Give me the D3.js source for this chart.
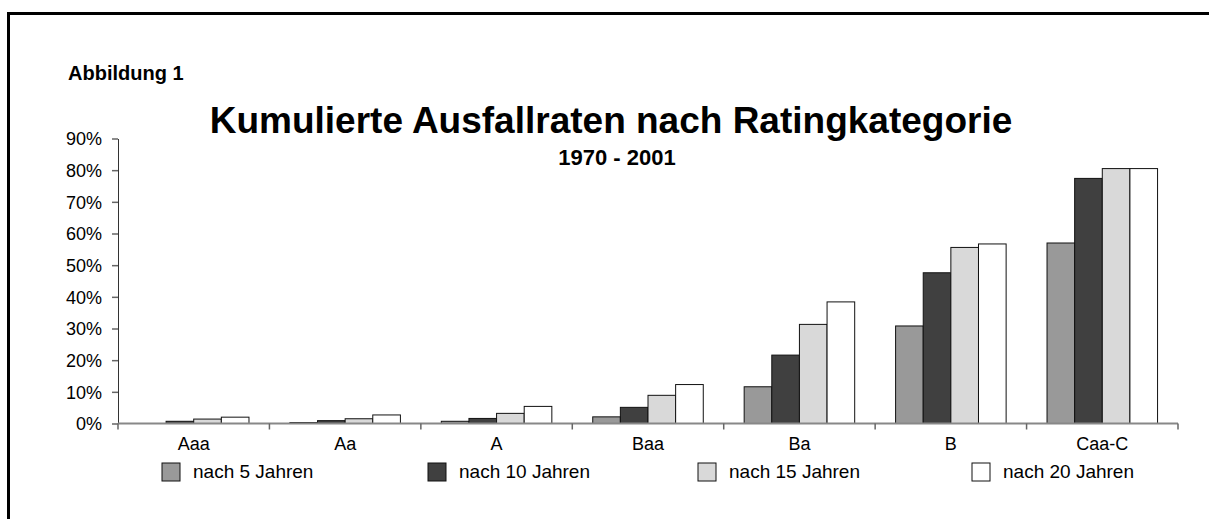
<!DOCTYPE html>
<html>
<head>
<meta charset="utf-8">
<script src="https://cdn.jsdelivr.net/npm/d3@7"></script>
<style>
  body { margin: 0; background: #fff; }
  svg { display: block; font-family: "Liberation Sans", Arial, sans-serif; }
  .axis text { font-size: 18px; fill: #000; }
</style>
</head>
<body>
<script>
// chart data (share of defaults)
var categories = ["Aaa", "Aa", "A", "Baa", "Ba", "B", "Caa-C"];
var seriesNames = ["nach 5 Jahren", "nach 10 Jahren", "nach 15 Jahren", "nach 20 Jahren"];
var after5  = [0.000, 0.003, 0.007, 0.021, 0.116, 0.308, 0.570];
var after10 = [0.007, 0.009, 0.016, 0.051, 0.216, 0.476, 0.774];
var after15 = [0.014, 0.015, 0.032, 0.089, 0.313, 0.556, 0.805];
var after20 = [0.020, 0.027, 0.054, 0.123, 0.384, 0.567, 0.805];
var yTicks = [0, 0.1, 0.2, 0.3, 0.4, 0.5, 0.6, 0.7, 0.8, 0.9];

var fills = ["#999999", "#404040", "#d9d9d9", "#ffffff"];

var W = 1209, H = 519;
var plot = {left: 118, right: 1178, top: 138.5, bottom: 423.5};

var series = [after5, after10, after15, after20];
var rows = categories.map(function(c, i) {
    return {cat: c, values: series.map(function(s, j) { return {key: j, value: s[i]}; })};
});

var svg = d3.select("body").append("svg")
    .attr("width", W)
    .attr("height", H);

// frame: only top and left edge visible
svg.append("path")
    .attr("d", "M8.5," + H + "V13.5H" + W)
    .attr("fill", "none")
    .attr("stroke", "#000")
    .attr("stroke-width", 3);

svg.append("text")
    .attr("x", 68).attr("y", 80)
    .style("font-size", "20px").style("font-weight", "bold")
    .text("Abbildung 1");

svg.append("text")
    .attr("x", 611).attr("y", 133)
    .attr("text-anchor", "middle")
    .style("font-size", "37px").style("font-weight", "bold")
    .text("Kumulierte Ausfallraten nach Ratingkategorie");

svg.append("text")
    .attr("x", 617).attr("y", 165)
    .attr("text-anchor", "middle")
    .style("font-size", "22px").style("font-weight", "bold")
    .text("1970 - 2001");

var x = d3.scaleBand()
    .domain(categories)
    .range([plot.left, plot.right])
    .padding(0);

var xs = d3.scaleBand()
    .domain(d3.range(series.length))
    .range([0, x.bandwidth()])
    .paddingInner(0)
    .paddingOuter(0.74);

var y = d3.scaleLinear()
    .domain([0, 0.9])
    .range([plot.bottom, plot.top]);

// y axis
var yAxis = svg.append("g")
    .attr("class", "axis")
    .attr("transform", "translate(" + plot.left + ",0)")
    .call(d3.axisLeft(y).tickValues(yTicks).tickFormat(d3.format(".0%")).tickSize(6).tickPadding(10).tickSizeOuter(0));
yAxis.select(".domain").attr("stroke", "#333");
yAxis.selectAll(".tick line").attr("stroke", "#666").attr("stroke-width", 1.5);
yAxis.selectAll("text").attr("dy", "0.36em");

// bars
var groups = svg.append("g").selectAll("g")
    .data(rows)
    .enter().append("g")
    .attr("transform", function(d) { return "translate(" + x(d.cat) + ",0)"; });

groups.selectAll("rect")
    .data(function(d) { return d.values; })
    .enter().append("rect")
    .filter(function(d) { return d.value > 0; })
    .attr("x", function(d) { return xs(d.key); })
    .attr("width", xs.bandwidth())
    .attr("y", function(d) { return y(d.value); })
    .attr("height", function(d) { return y(0) - y(d.value); })
    .attr("fill", function(d) { return fills[d.key]; })
    .attr("stroke", "#111")
    .attr("stroke-width", 1);

// x axis: baseline, category labels, boundary ticks
var xAxis = svg.append("g")
    .attr("class", "axis")
    .attr("transform", "translate(0," + plot.bottom + ")")
    .call(d3.axisBottom(x).tickSize(0).tickPadding(10));
xAxis.select(".domain").remove();
xAxis.selectAll("text").attr("dy", "0.9em");

svg.append("line")
    .attr("x1", plot.left).attr("x2", plot.right)
    .attr("y1", plot.bottom).attr("y2", plot.bottom)
    .attr("stroke", "#888").attr("stroke-width", 2);

svg.append("g").selectAll("line")
    .data(categories.concat(["end"]))
    .enter().append("line")
    .attr("x1", function(d, i) { return plot.left + i * x.step(); })
    .attr("x2", function(d, i) { return plot.left + i * x.step(); })
    .attr("y1", plot.bottom)
    .attr("y2", plot.bottom + 6)
    .attr("stroke", "#666").attr("stroke-width", 1.5);

// legend
var legendX = [162, 428, 698, 972];
var legend = svg.append("g").selectAll("g")
    .data(seriesNames)
    .enter().append("g")
    .attr("transform", function(d, i) { return "translate(" + legendX[i] + ",463)"; });

legend.append("rect")
    .attr("width", 18).attr("height", 18)
    .attr("fill", function(d, i) { return fills[i]; })
    .attr("stroke", "#111");

legend.append("text")
    .attr("x", 31).attr("y", 15)
    .style("font-size", "19px")
    .text(function(d) { return d; });
</script>
</body>
</html>
